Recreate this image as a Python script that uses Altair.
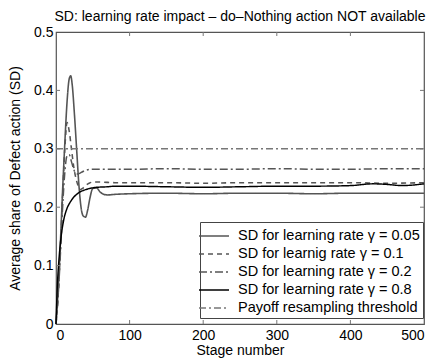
import altair as alt
import pandas as pd

series_names = [
    "SD for learning rate γ = 0.05",
    "SD for learnig rate γ = 0.1",
    "SD for learning rate γ = 0.2",
    "SD for learning rate γ = 0.8",
    "Payoff resampling threshold",
]

s05_x = [0, 3, 6, 9, 12, 15, 18, 20, 22, 25, 28, 31, 34, 37, 40, 43, 46, 50, 55, 60, 65, 70, 80, 100, 150, 200, 250, 300, 350, 400, 450, 500]
s05_y = [0, 0.06, 0.14, 0.23, 0.31, 0.38, 0.42, 0.425, 0.41, 0.36, 0.30, 0.24, 0.20, 0.185, 0.183, 0.195, 0.215, 0.232, 0.233, 0.226, 0.222, 0.221, 0.222, 0.223, 0.224, 0.223, 0.224, 0.224, 0.223, 0.224, 0.224, 0.224]

s01_x = [0, 3, 6, 9, 12, 15, 18, 21, 24, 27, 30, 33, 36, 40, 45, 50, 60, 80, 100, 150, 200, 250, 300, 350, 400, 450, 500]
s01_y = [0, 0.05, 0.13, 0.22, 0.30, 0.345, 0.33, 0.30, 0.27, 0.25, 0.237, 0.23, 0.232, 0.237, 0.241, 0.243, 0.243, 0.242, 0.242, 0.242, 0.241, 0.242, 0.242, 0.242, 0.242, 0.241, 0.242]

s02_x = [0, 3, 6, 9, 12, 15, 18, 21, 24, 27, 30, 35, 40, 50, 60, 80, 100, 150, 200, 250, 300, 350, 400, 450, 500]
s02_y = [0, 0.05, 0.12, 0.20, 0.26, 0.288, 0.29, 0.278, 0.265, 0.258, 0.257, 0.26, 0.263, 0.265, 0.265, 0.265, 0.265, 0.266, 0.265, 0.265, 0.266, 0.265, 0.265, 0.266, 0.266]

s08_x = [0, 2, 4, 7, 10, 15, 20, 30, 40, 55, 70, 80, 100, 150, 200, 250, 300, 350, 400, 430, 450, 470, 500]
s08_y = [0, 0.07, 0.11, 0.15, 0.175, 0.198, 0.21, 0.224, 0.23, 0.234, 0.235, 0.236, 0.236, 0.235, 0.234, 0.235, 0.236, 0.236, 0.237, 0.24, 0.239, 0.237, 0.24]

thr_x = [0, 500]
thr_y = [0.3, 0.3]

x_ticks = [100, 200, 300, 400]
y_ticks = [0.1, 0.2, 0.3, 0.4]

rows = []
for name, xs, ys in zip(series_names,
                        [s05_x, s01_x, s02_x, s08_x, thr_x],
                        [s05_y, s01_y, s02_y, s08_y, thr_y]):
    for i, (a, b) in enumerate(zip(xs, ys)):
        rows.append({"series": name, "stage": a, "share": b, "order": i})
df = pd.DataFrame(rows)

FONT = "Liberation Sans"
W, H = 368, 292

x_scale = alt.Scale(domain=[0, 500], nice=False)
y_scale = alt.Scale(domain=[0, 0.5], nice=False)

lines = alt.Chart(df).mark_line(interpolate="monotone").encode(
    x=alt.X("stage:Q", scale=x_scale,
            axis=alt.Axis(title="Stage number", values=[0, 100, 200, 300, 400, 500],
                          tickSize=0, labelPadding=4, titlePadding=1, domain=False,
                          grid=False, format="d")),
    y=alt.Y("share:Q", scale=y_scale,
            axis=alt.Axis(title="Average share of Defect action (SD)",
                          values=[0, 0.1, 0.2, 0.3, 0.4, 0.5], tickSize=0, format="~g",
                          labelPadding=3, titlePadding=11, domain=False, grid=False)),
    color=alt.Color("series:N", scale=alt.Scale(domain=series_names,
                    range=["#555555", "#555555", "#555555", "#000000", "#777777"]),
                    legend=alt.Legend(title=None, orient="none", legendX=144, legendY=190,
                                      symbolType="M-1.5,0H1.5", symbolSize=400,
                                      symbolFillColor="transparent",
                                      labelFontSize=14.5, labelFont=FONT, labelColor="#000",
                                      labelLimit=400, rowPadding=0, padding=3,
                                      strokeColor="#444", fillColor="white",
                                      labelOffset=13)),
    strokeDash=alt.StrokeDash("series:N", scale=alt.Scale(domain=series_names,
                    range=[[1, 0], [5, 4], [8, 3, 2, 3], [1, 0], [7, 3, 2, 3]]),
                    legend=alt.Legend(title=None)),
    strokeWidth=alt.StrokeWidth("series:N", scale=alt.Scale(domain=series_names,
                    range=[1.6, 1.4, 1.4, 2.4, 1.2]),
                    legend=alt.Legend(title=None)),
    order="order:Q",
)

tick_df_x = pd.DataFrame({"stage": x_ticks})
tick_df_y = pd.DataFrame({"share": y_ticks})
tick_color = "#777777"
xt_bottom = alt.Chart(tick_df_x).mark_rule(color=tick_color, strokeWidth=1).encode(
    x=alt.X("stage:Q", scale=x_scale), y=alt.value(H), y2=alt.value(H - 4))
xt_top = alt.Chart(tick_df_x).mark_rule(color=tick_color, strokeWidth=1).encode(
    x=alt.X("stage:Q", scale=x_scale), y=alt.value(0), y2=alt.value(4))
yt_left = alt.Chart(tick_df_y).mark_rule(color=tick_color, strokeWidth=1).encode(
    y=alt.Y("share:Q", scale=y_scale), x=alt.value(0), x2=alt.value(4))
yt_right = alt.Chart(tick_df_y).mark_rule(color=tick_color, strokeWidth=1).encode(
    y=alt.Y("share:Q", scale=y_scale), x=alt.value(W), x2=alt.value(W - 4))

chart = alt.layer(lines, xt_bottom, xt_top, yt_left, yt_right).properties(
    width=W, height=H,
    title=alt.Title("SD: learning rate impact – do–Nothing action NOT available",
                    fontSize=14, font=FONT, fontWeight="normal", color="#000",
                    anchor="middle", offset=1),
    autosize=alt.AutoSizeParams(type="none"),
    padding={"left": 48, "top": 24, "right": 8, "bottom": 36},
).configure_axis(
    labelFont=FONT, labelFontSize=14, labelColor="#000",
    titleFont=FONT, titleFontSize=14, titleFontWeight="normal", titleColor="#000",
).configure_view(stroke="#555555", strokeWidth=1.2)

chart.save("out.html", embed_options={"renderer": "svg", "actions": False})
